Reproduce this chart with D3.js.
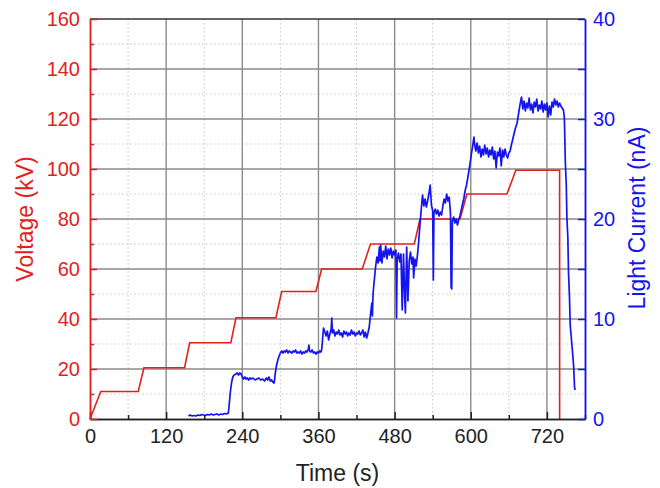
<!DOCTYPE html>
<html>
<head>
<meta charset="utf-8">
<script src="https://cdn.jsdelivr.net/npm/d3@7"></script>
<style>
  html, body { margin: 0; padding: 0; background: #fff; }
  svg { display: block; font-family: "Liberation Sans", Arial, sans-serif; }
</style>
</head>
<body>
<svg id="chart" width="660" height="488"></svg>
<script>
// ---------------- data ----------------
const xTicksMajor = [0, 120, 240, 360, 480, 600, 720];
const xTicksMinor = [60, 180, 300, 420, 540, 660, 780];
const voltTicks = [0, 20, 40, 60, 80, 100, 120, 140, 160];
const voltMinorTicks = [10, 30, 50, 70, 90, 110, 130, 150];
const currentTicks = [0, 10, 20, 30, 40];
const currentMinorTicks = [5, 15, 25, 35];

const voltTime  = [0, 17, 76, 85, 149, 157, 222, 230, 293, 302, 356, 365, 429, 442, 511, 520, 583, 594, 657, 671, 740, 740];
const voltValue = [0, 11, 11, 20.5, 20.5, 30.5, 30.5, 40.5, 40.5, 51, 51, 60, 60, 70, 70, 80, 80, 90, 90, 99.5, 99.5, 0];

const currentTime = [
  155, 158, 161, 164, 167, 170, 173, 176, 179, 182, 185, 188, 191, 194, 197, 200, 203, 206, 209, 212, 215, 218,
  219, 221, 223, 225, 227, 230, 232, 234, 236, 238, 240, 242, 244, 246, 248, 250, 252, 254, 257, 260, 263, 266, 269, 272, 275, 278, 280, 282, 284, 286, 288, 290, 291,
  292, 294, 296, 298, 300, 302, 304, 306, 308, 310, 312, 314, 316, 318, 320, 322, 324, 326, 328, 330, 332, 334, 336, 338, 340, 342, 344, 345, 346, 348, 350, 352, 354, 356, 358, 360, 362, 364,
  365, 366, 367, 368, 370, 372, 374, 376, 378, 380, 381, 382, 384, 386, 388, 390, 392, 394, 396, 398, 400, 402, 404, 406, 408, 410, 412, 414, 416, 418, 420, 422, 424, 426, 428, 430, 432, 434, 436, 438,
  440, 442, 444, 445, 446, 448, 450, 452, 454, 456, 457, 458, 460, 462, 464, 466, 468, 470, 472, 474, 476, 478, 480, 482, 483, 484, 486, 488, 490, 492, 494, 496, 497, 499, 501, 503, 505, 507, 509, 510, 512, 514, 516,
  518, 520, 522, 524, 526, 528, 530, 532, 534, 536, 538, 540, 541, 542, 544, 546, 548, 550, 552, 554, 556, 558, 560, 562, 564, 566, 568, 569, 570, 571, 573, 575, 577, 579, 581,
  583, 585, 587, 589, 591, 593, 595, 597, 599, 601, 603, 605,
  606, 608, 610, 612, 614, 616, 618, 620, 622, 624, 626, 628, 630, 632, 634, 636, 638, 640, 642, 644, 646, 648, 650, 652, 654, 656, 658, 660,
  662, 664, 667, 670, 673, 675, 677, 679, 680,
  682, 684, 686, 688, 690, 692, 694, 696, 698, 700, 702, 704, 706, 708, 710, 712, 714, 716, 718, 720, 722, 724, 726, 728, 730, 732, 734, 736, 738, 740, 742, 744, 746,
  747.5, 749, 750.5, 751.5, 753, 754, 755.6, 756.7, 759.4, 762, 763.6, 764.6
];
const currentValue = [
  0.3, 0.4, 0.3, 0.35, 0.3, 0.4, 0.35, 0.45, 0.4, 0.35, 0.45, 0.4, 0.5, 0.4, 0.45, 0.5, 0.4, 0.5, 0.45, 0.55, 0.5, 0.6,
  1.2, 2.6, 3.6, 4.2, 4.4, 4.5, 4.6, 4.4, 4.6, 4.5, 4.2, 4.0, 4.2, 4.0, 4.1, 3.9, 4.1, 4.0, 4.1, 3.9, 4.0, 4.1, 3.9, 4.0, 3.8, 4.1, 3.9, 4.2, 3.8, 3.9, 3.7, 3.6, 4.0,
  4.6, 5.4, 5.9, 6.3, 6.6, 6.8, 6.6, 6.8, 6.7, 6.9, 6.6, 6.8, 6.7, 6.6, 6.8, 6.7, 6.9, 6.6, 6.7, 6.6, 6.8, 6.5, 6.7, 6.6, 6.8, 6.7, 7.0, 7.4, 6.8, 6.7, 6.9, 6.6, 6.7, 6.5, 6.7, 6.6, 6.8, 6.7,
  6.9, 7.6, 8.4, 9.1, 8.7, 8.3, 8.8, 7.9, 8.5, 9.0, 10.1, 8.6, 8.9, 8.3, 8.7, 8.5, 8.9, 8.4, 8.6, 8.2, 8.8, 8.5, 8.7, 8.3, 8.6, 8.4, 8.9, 8.5, 8.7, 8.3, 8.6, 8.5, 8.8, 8.4, 8.6, 8.9, 8.2, 8.7, 8.1, 8.6,
  9.2, 10.4, 11.6, 10.3, 12.5, 13.9, 15.2, 16.2, 15.6, 17.2, 15.8, 17.4, 15.6, 16.8, 16.2, 17.3, 16.0, 17.0, 16.4, 17.1, 16.1, 16.8, 16.4, 16.9, 10.1, 15.9, 16.6, 15.7, 16.5, 10.9, 16.5, 12.0, 10.6, 17.2, 11.8, 15.8, 16.7, 15.5, 16.2, 14.1, 16.0, 15.3, 16.4,
  17.8, 19.5, 21.0, 22.4, 21.3, 22.0, 21.2, 21.8, 22.5, 23.4, 21.4, 20.8, 13.9, 20.6, 21.0, 20.5, 20.9, 20.3, 20.7, 20.4, 21.3, 22.0, 21.6, 22.5, 21.8, 22.2, 20.6, 13.2, 13.0, 19.8, 20.2, 19.6, 20.0, 19.4, 19.9,
  20.3, 20.9, 21.5, 22.0, 22.8, 23.3, 24.0, 24.8, 25.6, 26.5, 27.3, 28.2,
  27.5, 26.8, 27.6, 26.6, 27.3, 26.2, 27.0, 26.4, 27.4, 26.5, 27.1, 26.2, 26.9, 26.4, 27.2, 26.0, 26.8, 25.1, 26.7, 26.3, 27.1, 25.3, 26.9, 26.2, 27.0, 26.4, 26.1, 26.6,
  26.8, 27.4, 28.2, 29.0, 29.6, 30.4, 31.2, 31.9, 32.2,
  31.0, 31.8, 30.8, 31.6, 31.1, 32.1, 30.9, 31.5, 30.6, 31.7, 31.2, 32.0, 30.8, 31.4, 31.0, 31.8, 30.7, 31.5, 30.9, 31.6, 30.2, 31.3, 30.4, 31.7, 31.2, 32.0, 31.4, 31.8, 31.2, 31.6, 31.3, 31.1, 30.9,
  30.1, 25.7, 23.4, 20.1, 18.1, 14.7, 12.1, 9.4, 7.4, 5.4, 3.1, 2.9
];

// ---------------- layout ----------------
const RED = "#e0221f";
const BLUE = "#1414f0";
const svg = d3.select("#chart");
const L = 90, R = 585, T = 19, B = 419;

const x = d3.scaleLinear().domain([0, 780]).range([L, R]);
const yV = d3.scaleLinear().domain([0, 160]).range([B, T]);
const yI = d3.scaleLinear().domain([0, 40]).range([B, T]);

// grid
const grid = svg.append("g");
grid.selectAll("line.vminor").data(xTicksMinor.filter(d => d < 780)).join("line")
  .attr("x1", d => x(d)).attr("x2", d => x(d)).attr("y1", T).attr("y2", B)
  .attr("stroke", "#c4c4c4").attr("stroke-width", 1).attr("stroke-dasharray", "1.5,2.5");
grid.selectAll("line.hminor").data(voltMinorTicks).join("line")
  .attr("x1", L).attr("x2", R).attr("y1", d => yV(d)).attr("y2", d => yV(d))
  .attr("stroke", "#c4c4c4").attr("stroke-width", 1).attr("stroke-dasharray", "1.5,2.5");
grid.selectAll("line.vmajor").data(xTicksMajor.filter(d => d > 0)).join("line")
  .attr("x1", d => x(d)).attr("x2", d => x(d)).attr("y1", T).attr("y2", B)
  .attr("stroke", "#8a8a8a").attr("stroke-width", 1.4);
grid.selectAll("line.hmajor").data(voltTicks.filter(d => d > 0 && d < 160)).join("line")
  .attr("x1", L).attr("x2", R).attr("y1", d => yV(d)).attr("y2", d => yV(d))
  .attr("stroke", "#8a8a8a").attr("stroke-width", 1.4);

// top border
svg.append("line").attr("x1", L).attr("x2", R).attr("y1", T).attr("y2", T)
  .attr("stroke", "#333").attr("stroke-width", 1.5);

// series
const voltData = voltTime.map((t, i) => [t, voltValue[i]]);
const curData = currentTime.map((t, i) => [t, currentValue[i]]);

svg.append("path").datum(voltData)
  .attr("d", d3.line().x(d => x(d[0])).y(d => yV(d[1])))
  .attr("fill", "none").attr("stroke", RED).attr("stroke-width", 1.6);
svg.append("path").datum(curData)
  .attr("d", d3.line().x(d => x(d[0])).y(d => yI(d[1])))
  .attr("fill", "none").attr("stroke", BLUE).attr("stroke-width", 1.7).attr("stroke-linejoin", "round");

// axes
const fs = "20px";
function styleAxis(g, color) {
  g.select(".domain").attr("stroke", color).attr("stroke-width", 1.5);
  g.selectAll(".tick line").attr("stroke", color).attr("stroke-width", 1.5);
  g.selectAll(".tick text").attr("fill", color).style("font-size", fs).style("font-family", "Liberation Sans, Arial, sans-serif");
}

// bottom
const gxMinor = svg.append("g").attr("transform", `translate(0,${B})`)
  .call(d3.axisBottom(x).tickValues(xTicksMinor).tickSize(-4).tickSizeOuter(0).tickFormat(""));
styleAxis(gxMinor, "#222");
const gx = svg.append("g").attr("transform", `translate(0,${B})`)
  .call(d3.axisBottom(x).tickValues(xTicksMajor).tickSize(-7).tickSizeOuter(0).tickPadding(10).tickFormat(d3.format("d")));
styleAxis(gx, "#222");

// left
const gyMinor = svg.append("g").attr("transform", `translate(${L},0)`)
  .call(d3.axisLeft(yV).tickValues(voltMinorTicks).tickSize(-4).tickSizeOuter(0).tickFormat(""));
styleAxis(gyMinor, RED);
const gy = svg.append("g").attr("transform", `translate(${L},0)`)
  .call(d3.axisLeft(yV).tickValues(voltTicks).tickSize(-7).tickSizeOuter(0).tickPadding(10).tickFormat(d3.format("d")));
styleAxis(gy, RED);

// right
const grMinor = svg.append("g").attr("transform", `translate(${R},0)`)
  .call(d3.axisRight(yI).tickValues(currentMinorTicks).tickSize(-7).tickSizeOuter(0).tickFormat(""));
styleAxis(grMinor, BLUE);
const gr = svg.append("g").attr("transform", `translate(${R},0)`)
  .call(d3.axisRight(yI).tickValues(currentTicks).tickSize(-7).tickSizeOuter(0).tickPadding(8).tickFormat(d3.format("d")));
styleAxis(gr, BLUE);

// titles
svg.append("text").attr("x", (L + R) / 2).attr("y", 481).attr("text-anchor", "middle")
  .attr("fill", "#222").style("font-size", "23px").text("Time (s)");
svg.append("text").attr("transform", "translate(33,219) rotate(-90)").attr("text-anchor", "middle")
  .attr("fill", RED).style("font-size", "23px").text("Voltage (kV)");
svg.append("text").attr("transform", "translate(645,218) rotate(-90)").attr("text-anchor", "middle")
  .attr("fill", BLUE).style("font-size", "23px").text("Light Current (nA)");
</script>
</body>
</html>
